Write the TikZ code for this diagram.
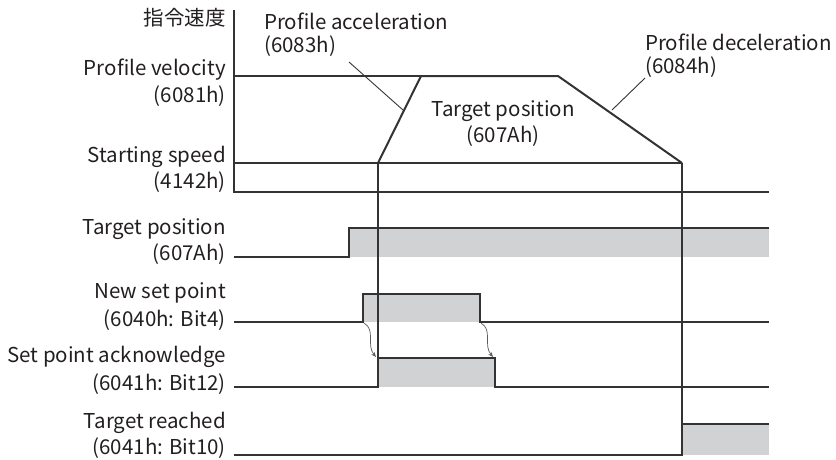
\documentclass[tikz,border=0pt]{standalone}
\usepackage{fontspec}
\setmainfont{Noto Sans CJK JP}
\usetikzlibrary{arrows.meta}
\definecolor{ink}{HTML}{333333}
\definecolor{txt}{HTML}{231F20}
\definecolor{sig}{HTML}{D1D2D4}
\tikzset{
  lbl/.style={inner sep=0pt, text=txt, font=\fontsize{20.5}{22}\selectfont},
  lblr/.style={lbl, anchor=east},
  lbll/.style={lbl, anchor=west},
  wave/.style={draw=ink, line width=1.3pt, line join=miter},
  prof/.style={draw=ink, line width=2pt, line join=miter},
  gfill/.style={fill=sig, draw=none},
  leader/.style={draw=ink, line width=0.9pt},
  handshake/.style={draw=ink!80, line width=0.7pt, -{Stealth[length=5pt,width=4pt]}},
}
\begin{document}
\begin{tikzpicture}[x=1pt,y=-1pt]
\useasboundingbox (0,0) rectangle (836,459);
% labels left
\node[lblr] (cmd) at (226,18) {指令速度};
\node[lblr] (pv1) at (226,70) {Profile velocity};
\node[lblr] (pv2) at (226,96) {(6081h)};
\node[lblr] (ss1) at (226,157) {Starting speed};
\node[lblr] (ss2) at (226,182) {(4142h)};
\node[lblr] (tp1) at (226,229) {Target position};
\node[lblr] (tp2) at (226,254) {(607Ah)};
\node[lblr] (ns1) at (226,293) {New set point};
\node[lblr] (ns2) at (226,320) {(6040h: Bit4)};
\node[lblr] (sa1) at (226,357) {Set point acknowledge};
\node[lblr] (sa2) at (226,384) {(6041h: Bit12)};
\node[lblr] (tr1) at (226,423) {Target reached};
\node[lblr] (tr2) at (226,448) {(6041h: Bit10)};
% upper labels
\node[lbll] (pa1) at (264,21) {Profile acceleration};
\node[lbll] (pa2) at (264,46) {(6083h)};
\node[lbl] (tc1) at (503,111) {Target position};
\node[lbl] (tc2) at (503,136) {(607Ah)};
\node[lbll] (pd1) at (645,42) {Profile deceleration};
\node[lbll] (pd2) at (645,67) {(6084h)};
% gray fills
\fill[gfill] (349,228) rectangle (769,257);
\fill[gfill] (363,294) rectangle (480,322);
\fill[gfill] (378,358) rectangle (495,387);
\fill[gfill] (682,424) rectangle (769,455);
% speed axis
\coordinate (a0) at (234,10);
\coordinate (a1) at (234,192);
\coordinate (b1) at (769,192);
\draw[wave] (a0) -- (a1) -- (b1);
\draw[wave] (234,76) -- (421,76);
\draw[wave] (234,163) -- (682,163);
% profile
\coordinate (p0) at (378,163);
\coordinate (p1) at (421,76);
\coordinate (p2) at (558,76);
\coordinate (p3) at (682,163);
\draw[prof] (p0) -- (p1) -- (p2) -- (p3);
% leaders
\draw[leader] (349,62) -- (403,110);
\draw[leader] (645,78) -- (612,110);
% target position signal
\draw[wave] (234,257) -- (349,257) -- (349,228) -- (769,228);
% new set point
\draw[wave] (234,322) -- (363,322) -- (363,294) -- (480,294) -- (480,322) -- (769,322);
% set point acknowledge
\draw[wave] (234,387) -- (378,387) -- (378,358) -- (495,358) -- (495,387) -- (769,387);
\draw[wave] (378,163) -- (378,358);
% target reached
\draw[wave] (234,455) -- (682,455) -- (682,424) -- (769,424);
\draw[wave] (682,163) -- (682,455);
% handshake arrows
\coordinate (h0) at (364,323);
\coordinate (h1) at (376,357);
\coordinate (h2) at (481,323);
\coordinate (h3) at (493,357);
\draw[handshake] (h0) .. controls (376,330) and (366,345) .. (h1);
\draw[handshake] (h2) .. controls (493,330) and (483,345) .. (h3);
\end{tikzpicture}
\end{document}
